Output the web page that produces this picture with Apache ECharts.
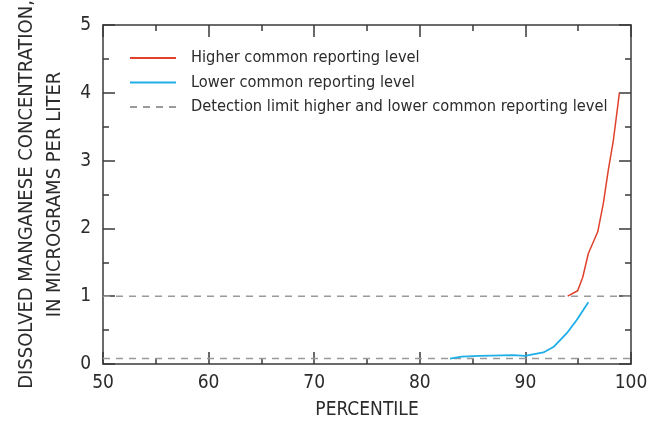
<!DOCTYPE html>
<html>
<head>
<meta charset="utf-8">
<script src="https://cdn.jsdelivr.net/npm/echarts@6/dist/echarts.min.js"></script>
<style>
  html, body { margin: 0; padding: 0; background: #fff; }
  #chart { width: 656px; height: 427px; }
</style>
</head>
<body>
<div id="chart"></div>
<script>
// Percentile curves of dissolved manganese concentration
const higherPct = [94.0, 94.95, 95.43, 95.96, 96.85, 97.38, 97.85, 98.33, 98.74, 98.9];
const higherVal = [1.0, 1.08, 1.28, 1.63, 1.95, 2.37, 2.86, 3.30, 3.80, 4.0];

const lowerPct = [82.86, 83.97, 85.7, 88.85, 89.96, 91.7, 92.65, 93.9, 94.86, 95.96];
const lowerVal = [0.08, 0.11, 0.12, 0.13, 0.12, 0.17, 0.25, 0.45, 0.65, 0.91];

// Detection limits for the two common reporting levels
const detectionLimits = [1.0, 0.08];
const pctRange = [50, 100];

const seriesNames = [
  'Higher common reporting level',
  'Lower common reporting level',
  'Detection limit higher and lower common reporting level'
];

const xTicks = [50, 60, 70, 80, 90, 100];
const yTicks = [0, 1, 2, 3, 4, 5];

const FONT = '"Liberation Sans Narrow", "DejaVu Sans Condensed", sans-serif';
const AXIS_COLOR = '#3a3a3a';
const TEXT_COLOR = '#2b2b2b';

const pair = (xs, ys) => xs.map((x, i) => [x, ys[i]]);

const axisCommon = {
  type: 'value',
  axisLine: { show: true, onZero: false, lineStyle: { color: AXIS_COLOR, width: 1.5 } },
  axisTick: { show: true, inside: true, length: 12, lineStyle: { color: AXIS_COLOR, width: 1.5 } },
  minorTick: { show: true, splitNumber: 2, length: 6, lineStyle: { color: AXIS_COLOR, width: 1.5 } },
  splitLine: { show: false },
  minorSplitLine: { show: false }
};

const chart = echarts.init(document.getElementById('chart'), null, { renderer: 'canvas' });

const detectionSeries = detectionLimits.map(v => ({
  name: seriesNames[2],
  type: 'line',
  data: pctRange.map(p => [p, v]),
  symbol: 'none',
  silent: true,
  z: 1,
  lineStyle: { color: '#9a9a9a', width: 1.5, type: [7, 6] }
}));

chart.setOption({
  animation: false,
  backgroundColor: '#ffffff',
  textStyle: { fontFamily: FONT },
  grid: { left: 103, right: 25, top: 25, bottom: 63, containLabel: false, outerBoundsMode: 'none' },
  legend: {
    left: 124,
    top: 45,
    orient: 'vertical',
    itemWidth: 46,
    itemHeight: 14,
    itemGap: 8.5,
    data: seriesNames,
    itemStyle: { opacity: 0 },
    textStyle: { fontFamily: FONT, fontSize: 16.3, color: TEXT_COLOR, padding: [0, 0, 0, 10] },
    selectedMode: false
  },
  xAxis: [
    Object.assign({}, axisCommon, {
      min: 50, max: 100, interval: 10,
      position: 'bottom',
      name: 'PERCENTILE',
      nameLocation: 'middle',
      nameGap: 37,
      nameTextStyle: { fontFamily: FONT, fontSize: 19, color: TEXT_COLOR },
      axisLabel: {
        fontFamily: FONT, fontSize: 19, color: TEXT_COLOR, margin: 10,
        formatter: v => (xTicks.includes(v) ? String(v) : '')
      }
    }),
    Object.assign({}, axisCommon, {
      min: 50, max: 100, interval: 10,
      position: 'top',
      axisLabel: { show: false }
    })
  ],
  yAxis: [
    Object.assign({}, axisCommon, {
      min: 0, max: 5, interval: 1,
      position: 'left',
      name: 'DISSOLVED MANGANESE CONCENTRATION,\nIN MICROGRAMS PER LITER',
      nameLocation: 'middle',
      nameGap: 31,
      nameTextStyle: { fontFamily: FONT, fontSize: 20, color: TEXT_COLOR, lineHeight: 28 },
      axisLabel: {
        fontFamily: FONT, fontSize: 19, color: TEXT_COLOR, margin: 12,
        formatter: v => (yTicks.includes(v) ? String(v) : '')
      }
    }),
    Object.assign({}, axisCommon, {
      min: 0, max: 5, interval: 1,
      position: 'right',
      axisLabel: { show: false }
    })
  ],
  series: [
    {
      name: seriesNames[0],
      type: 'line',
      data: pair(higherPct, higherVal),
      symbol: 'none',
      z: 3,
      lineStyle: { color: '#e0412d', width: 1.5 },
      itemStyle: { color: '#e0412d' }
    },
    {
      name: seriesNames[1],
      type: 'line',
      data: pair(lowerPct, lowerVal),
      symbol: 'none',
      z: 3,
      lineStyle: { color: '#1eaee8', width: 1.8 },
      itemStyle: { color: '#1eaee8' }
    }
  ].concat(detectionSeries)
});
</script>
</body>
</html>
